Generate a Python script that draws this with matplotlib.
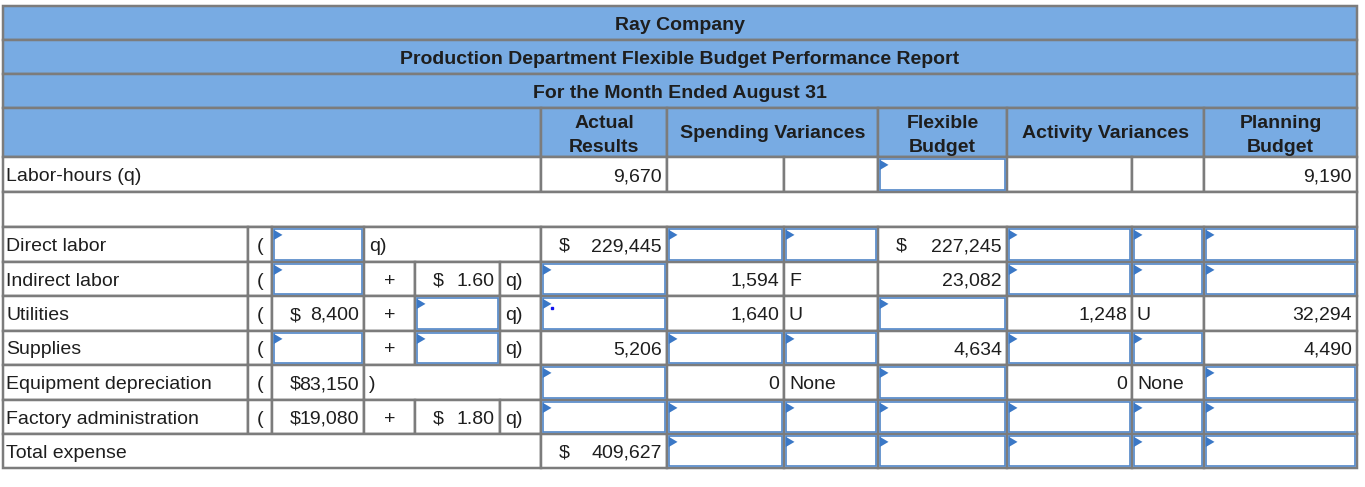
import matplotlib
matplotlib.use("Agg")
import matplotlib.pyplot as plt
from matplotlib.patches import Rectangle, Polygon

plt.rcParams['font.family'] = ['Liberation Sans', 'DejaVu Sans']

# ---------------- data ----------------
company = "Ray Company"
report_title = "Production Department Flexible Budget Performance Report"
period = "For the Month Ended August 31"
column_headers = ["Actual\nResults", "Spending Variances", "Flexible\nBudget",
                  "Activity Variances", "Planning\nBudget"]

activity_label = "Labor-hours (q)"
labor_hours_actual = 9670
labor_hours_flexible = "?"          # "?" = blank answer box
labor_hours_planning = 9190

row_labels = ["Direct labor", "Indirect labor", "Utilities", "Supplies",
              "Equipment depreciation", "Factory administration", "Total expense"]
formula_fixed = ["?", "?", 8400, "?", 83150, 19080, None]
formula_rate = ["q", 1.60, "?", "?", None, 1.80, None]
actual_results = [229445, "?", "?", 5206, "?", "?", 409627]
spending_var = ["?", 1594, 1640, "?", 0, "?", "?"]
spending_flag = ["?", "F", "U", "?", "None", "?", "?"]
flexible_budget = [227245, 23082, "?", 4634, "?", "?", "?"]
activity_var = ["?", "?", 1248, "?", 0, "?", "?"]
activity_flag = ["?", "?", "U", "?", "None", "?", "?"]
planning_budget = ["?", "?", 32294, 4490, "?", "?", "?"]
dollar_rows = [0, 6]

# ---------------- layout (pixels) ----------------
W, H = 1365, 487
X = [3, 248, 272, 364, 415, 500, 541, 667, 784, 878, 1007, 1132, 1204, 1357]
Y_TITLE = [6, 40, 74, 108, 157]
Y_HOURS = [157, 192]
Y_BLANK = [192, 227]
Y_BODY = [227, 262, 296, 331, 365, 400, 434, 468]

HEADER_BLUE = "#78abe3"
GRID = "#7c7c7c"
BOX = "#5589c9"
FLAG = "#3b78c6"
TXT = "#1e1e1e"
FS = 14
PX = 72.0 / 100.0

fig = plt.figure(figsize=(W / 100, H / 100), dpi=100)
ax = fig.add_axes([0, 0, 1, 1])
ax.set_xlim(0, W)
ax.set_ylim(H, 0)
ax.axis("off")


def cell(x0, x1, y0, y1, fill="white"):
    ax.add_patch(Rectangle((x0, y0), x1 - x0, y1 - y0, facecolor=fill,
                           edgecolor=GRID, linewidth=2.5 * PX, zorder=2))


def inputbox(x0, x1, y0, y1):
    ax.add_patch(Rectangle((x0 + 2.3, y0 + 2.3), x1 - x0 - 4.6, y1 - y0 - 4.6,
                           facecolor="white", edgecolor=BOX,
                           linewidth=1.7 * PX, zorder=3))
    ax.add_patch(Polygon([(x0 + 1.8, y0 + 2.8), (x0 + 1.8, y0 + 13.0),
                          (x0 + 10.5, y0 + 7.9)], closed=True,
                         facecolor=FLAG, edgecolor="none", zorder=4))


def txt(x, y0, y1, s, ha="left", bold=False, dy=6.5):
    ax.text(x, (y0 + y1) / 2 + dy, s, ha=ha, va="baseline", fontsize=FS,
            fontweight="bold" if bold else "normal", color=TXT, zorder=5)


def value(v, x0, x1, y0, y1, dollar=False, fmt="{:,}"):
    cell(x0, x1, y0, y1)
    if v is None:
        return
    if isinstance(v, str) and v == "?":
        inputbox(x0, x1, y0, y1)
        return
    if isinstance(v, str):
        txt(x0 + 5, y0, y1, v, ha="left")
        return
    txt(x1 - 5, y0, y1, fmt.format(v), ha="right")
    if dollar:
        txt(x0 + 18, y0, y1, "$", ha="left")


# ---- title rows ----
for i, s in enumerate([company, report_title, period]):
    cell(X[0], X[-1], Y_TITLE[i], Y_TITLE[i + 1], HEADER_BLUE)
    txt((X[0] + X[-1]) / 2, Y_TITLE[i], Y_TITLE[i + 1], s, ha="center", bold=True)

# ---- column header row ----
y0, y1 = Y_TITLE[3], Y_TITLE[4]
header_spans = [(X[6], X[7]), (X[7], X[9]), (X[9], X[10]), (X[10], X[12]), (X[12], X[13])]
cell(X[0], X[6], y0, y1, HEADER_BLUE)
for (a, b), s in zip(header_spans, column_headers):
    cell(a, b, y0, y1, HEADER_BLUE)
    lines = s.split("\n")
    n = len(lines)
    for k, line in enumerate(lines):
        off = (k - (n - 1) / 2) * 23
        txt((a + b) / 2, y0, y1, line, ha="center", bold=True,
            dy=(5.5 if n == 1 else 7.5) + off)

# ---- labor-hours row ----
y0, y1 = Y_HOURS
cell(X[0], X[6], y0, y1)
txt(X[0] + 3, y0, y1, activity_label)
value(labor_hours_actual, X[6], X[7], y0, y1)
value(None, X[7], X[8], y0, y1)
value(None, X[8], X[9], y0, y1)
value(labor_hours_flexible, X[9], X[10], y0, y1)
value(None, X[10], X[11], y0, y1)
value(None, X[11], X[12], y0, y1)
value(labor_hours_planning, X[12], X[13], y0, y1)

# ---- blank spacer row ----
cell(X[0], X[-1], Y_BLANK[0], Y_BLANK[1])

# ---- body rows ----
for r, label in enumerate(row_labels):
    y0, y1 = Y_BODY[r], Y_BODY[r + 1]
    fixed, rate = formula_fixed[r], formula_rate[r]
    if fixed is None and rate is None:
        cell(X[0], X[6], y0, y1)
        txt(X[0] + 3, y0, y1, label)
    else:
        cell(X[0], X[1], y0, y1)
        txt(X[0] + 3, y0, y1, label)
        cell(X[1], X[2], y0, y1)
        txt(X[1] + 9, y0, y1, "(")
        value(fixed, X[2], X[3], y0, y1, dollar=True)
        if rate == "q":
            cell(X[3], X[6], y0, y1)
            txt(X[3] + 5, y0, y1, "q)")
        elif rate is None:
            cell(X[3], X[6], y0, y1)
            txt(X[3] + 5, y0, y1, ")")
        else:
            cell(X[3], X[4], y0, y1)
            txt((X[3] + X[4]) / 2, y0, y1, "+", ha="center")
            value(rate, X[4], X[5], y0, y1, dollar=True, fmt="{:.2f}")
            cell(X[5], X[6], y0, y1)
            txt(X[5] + 5, y0, y1, "q)")
    d = r in dollar_rows
    value(actual_results[r], X[6], X[7], y0, y1, dollar=d)
    value(spending_var[r], X[7], X[8], y0, y1)
    value(spending_flag[r], X[8], X[9], y0, y1)
    value(flexible_budget[r], X[9], X[10], y0, y1, dollar=d)
    value(activity_var[r], X[10], X[11], y0, y1)
    value(activity_flag[r], X[11], X[12], y0, y1)
    value(planning_budget[r], X[12], X[13], y0, y1, dollar=d)

# small cursor dot seen in the utilities actual-results box
ax.plot([551.7], [308.3], marker="s", markersize=1.6, color="#1010ee", zorder=6)

fig.savefig("out.png", dpi=100)
